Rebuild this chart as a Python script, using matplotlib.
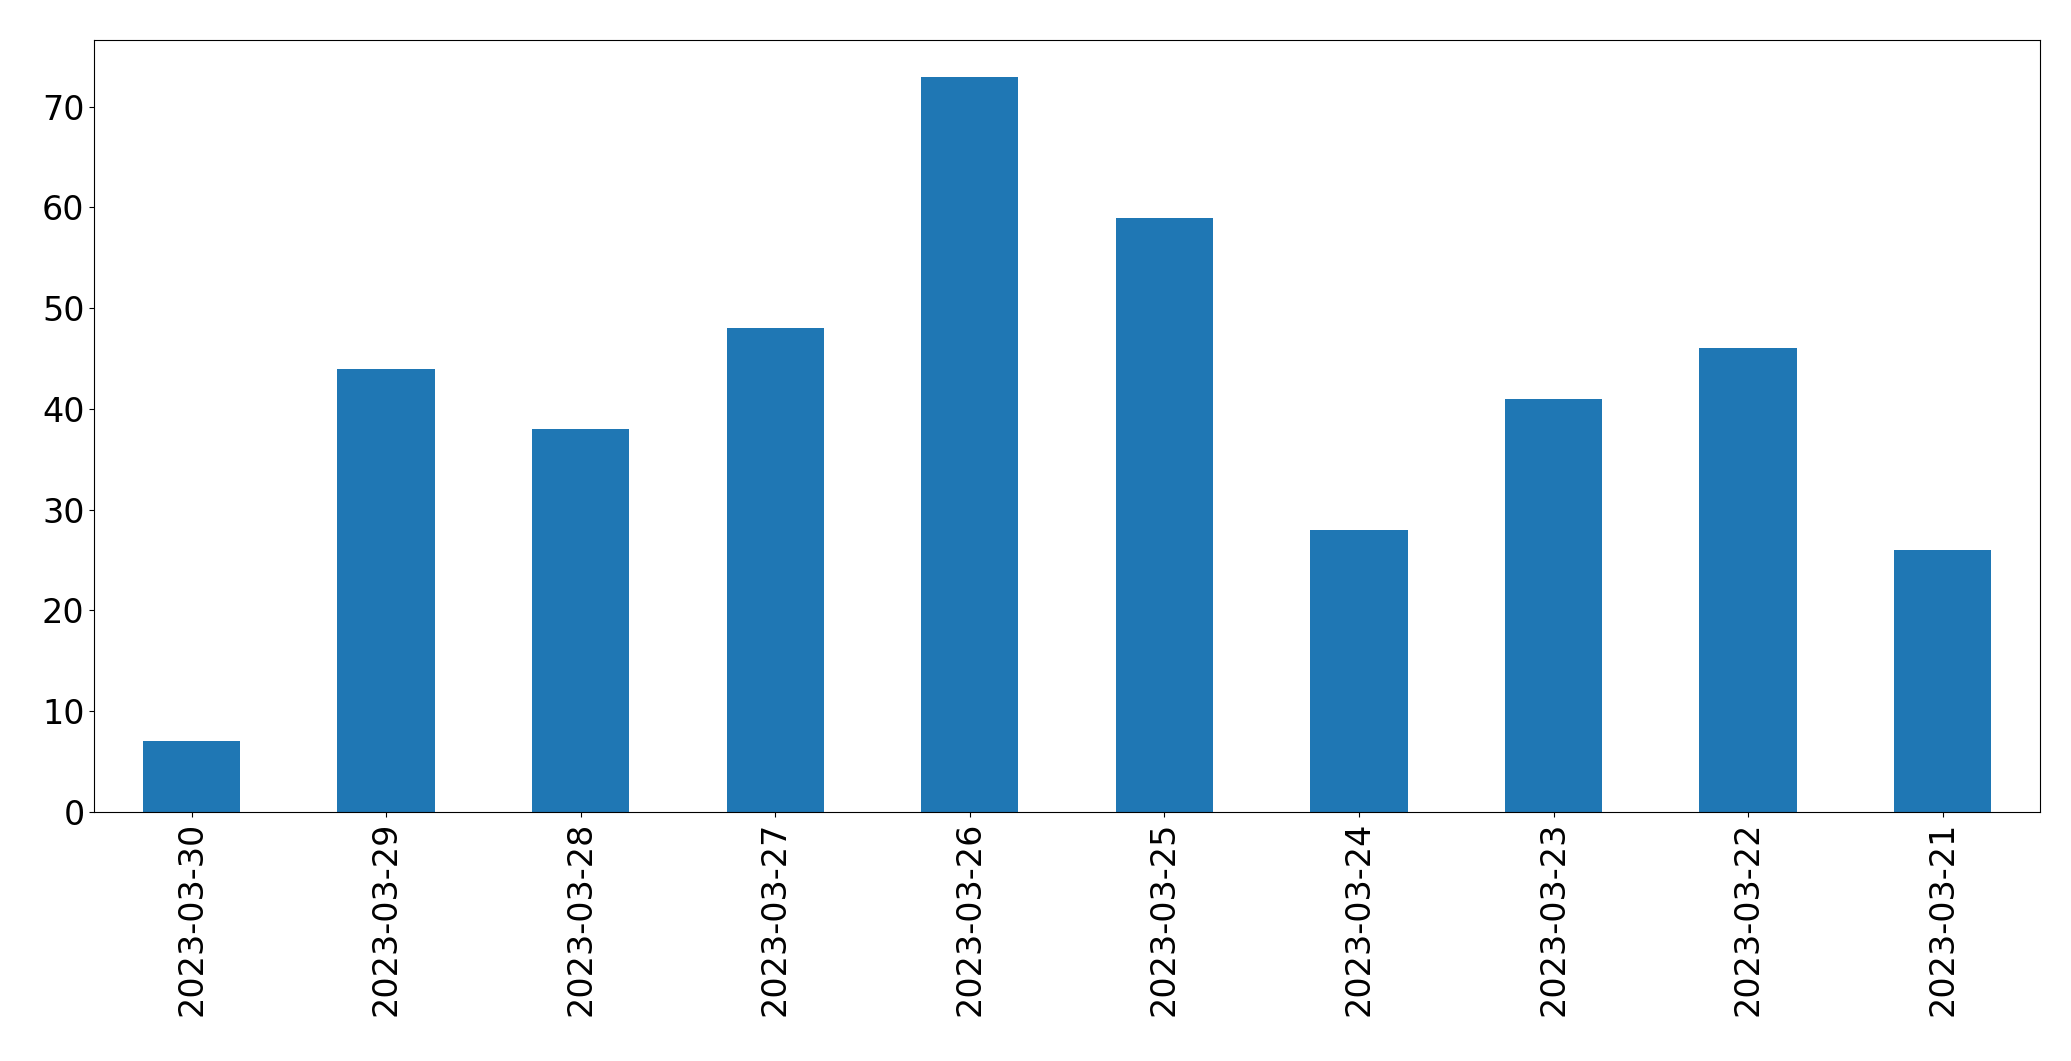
import matplotlib
matplotlib.use("Agg")
import matplotlib.pyplot as plt

dates = ["2023-03-30","2023-03-29","2023-03-28","2023-03-27","2023-03-26",
         "2023-03-25","2023-03-24","2023-03-23","2023-03-22","2023-03-21"]
counts = [7, 44, 38, 48, 73, 59, 28, 41, 46, 26]

fig = plt.figure(figsize=(20.71, 10.61), dpi=100)
ax = fig.add_axes([0.0455, 0.235, 0.9395, 0.7275])
x = range(len(dates))
ax.bar(x, counts, width=0.5, color="#1f77b4")
ax.set_xlim(-0.5, len(dates) - 0.5)
ax.set_xticks(list(x))
ax.set_xticklabels(dates, rotation=90)
ax.tick_params(labelsize=24)
fig.savefig("out.png", dpi=100)
